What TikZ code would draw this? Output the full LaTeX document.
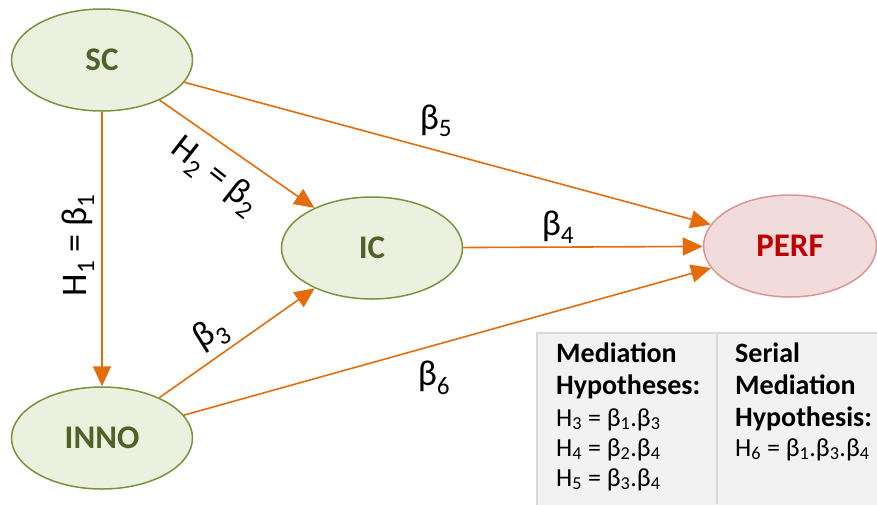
\documentclass[tikz,border=0pt]{standalone}
\usepackage{fontspec}
\setmainfont{Carlito}
\usetikzlibrary{shapes.geometric,arrows.meta}
\definecolor{arr}{HTML}{E46C0A}
\definecolor{gfill}{HTML}{EBF1DE}
\definecolor{gdraw}{HTML}{77933C}
\definecolor{gtext}{HTML}{4F6228}
\definecolor{rfill}{HTML}{F2DCDB}
\definecolor{rdraw}{HTML}{D99694}
\definecolor{rtext}{HTML}{C00000}
\definecolor{tfill}{HTML}{F2F2F2}
\definecolor{tdraw}{HTML}{D9D9D9}
\tikzset{
  var/.style={ellipse,draw=gdraw,fill=gfill,line width=1.5pt,minimum width=181pt,minimum height=102pt,inner sep=0pt,
    font=\fontsize{33}{38}\selectfont\bfseries,text=gtext},
  outvar/.style={var,draw=rdraw,fill=rfill,text=rtext,minimum width=173pt},
  path/.style={draw=arr,line width=1.6pt,-{Triangle[length=20pt,width=18pt]}},
  coef/.style={font=\fontsize{36}{40}\selectfont,inner sep=0pt},
  tbold/.style={font=\fontsize{28}{32}\selectfont\bfseries,anchor=base west,inner sep=0pt},
  tnorm/.style={font=\fontsize{26}{30}\selectfont,anchor=base west,inner sep=0pt}
}
\begin{document}
\begin{tikzpicture}[x=1pt,y=-1pt]
\useasboundingbox (0,0) rectangle (877,504);
\node[var] (SC) at (102,60) {SC};
\node[var] (IC) at (372,248) {IC};
\node[var] (INNO) at (102,438) {INNO};
\node[outvar] (PERF) at (790,246) {PERF};
\draw[path] (SC) -- (INNO);
\draw[path] (SC) -- (IC);
\draw[path] (SC) -- (PERF);
\draw[path] (IC) -- (PERF);
\draw[path] (INNO) -- (IC);
\draw[path] (INNO) -- (PERF);
\node[coef,rotate=90] (l1) at (78,245) {H\textsubscript{1} = β\textsubscript{1}};
\node[coef,rotate=-38] (l2) at (215,176) {H\textsubscript{2} = β\textsubscript{2}};
\node[coef,rotate=32] (l3) at (211,334) {β\textsubscript{3}};
\node[coef] (l4) at (558,227) {β\textsubscript{4}};
\node[coef] (l5) at (436,121) {β\textsubscript{5}};
\node[coef] (l6) at (434,378) {β\textsubscript{6}};
\path[fill=tfill,draw=tdraw,line width=2pt] (537,333) rectangle (884,510);
\draw[tdraw,line width=2pt] (717,333) -- (717,504);
\node[tbold] (m1) at (556,362) {Mediation};
\node[tbold] (m2) at (556,394) {Hypotheses:};
\node[tnorm] (h3) at (556,426) {H\textsubscript{3} = β\textsubscript{1}.β\textsubscript{3}};
\node[tnorm] (h4) at (556,456) {H\textsubscript{4} = β\textsubscript{2}.β\textsubscript{4}};
\node[tnorm] (h5) at (556,486) {H\textsubscript{5} = β\textsubscript{3}.β\textsubscript{4}};
\node[tbold] (s1) at (735,362) {Serial};
\node[tbold] (s2) at (735,394) {Mediation};
\node[tbold] (s3) at (735,426) {Hypothesis:};
\node[tnorm] (h6) at (735,456) {H\textsubscript{6} = β\textsubscript{1}.β\textsubscript{3}.β\textsubscript{4}};
\end{tikzpicture}
\end{document}
